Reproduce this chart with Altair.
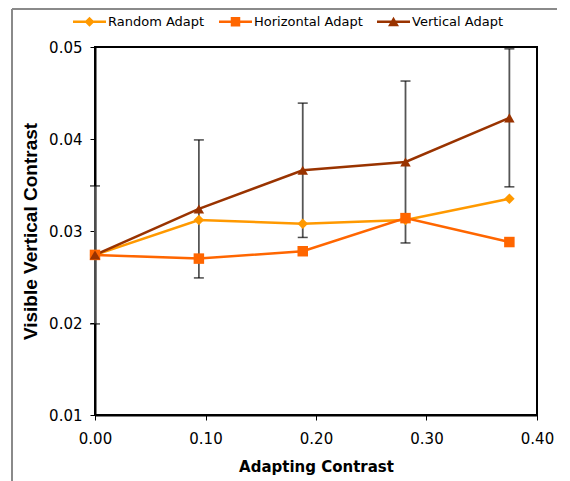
import altair as alt
import pandas as pd

# ---- data ----
series_names = ["Random Adapt", "Horizontal Adapt", "Vertical Adapt"]
series_colors = ["#FF9900", "#FF6600", "#993300"]
adapting_contrast = [0.0, 0.094, 0.188, 0.281, 0.375]
random_adapt = [0.0274, 0.0312, 0.0308, 0.0312, 0.0335]
horizontal_adapt = [0.0274, 0.0270, 0.0278, 0.0314, 0.0288]
vertical_adapt = [0.0274, 0.0324, 0.0366, 0.0375, 0.0423]
vertical_err = [0.0075, 0.0075, 0.0073, 0.0088, 0.0075]
x_ticks = [0.0, 0.1, 0.2, 0.3, 0.4]
y_ticks = [0.01, 0.02, 0.03, 0.04, 0.05]

rows = []
for name, vals in zip(series_names, [random_adapt, horizontal_adapt, vertical_adapt]):
    for xv, yv in zip(adapting_contrast, vals):
        rows.append({"contrast": xv, "value": yv, "series": name})
df = pd.DataFrame(rows)

err_df = pd.DataFrame({
    "contrast": adapting_contrast,
    "lo": [v - e for v, e in zip(vertical_adapt, vertical_err)],
    "hi": [v + e for v, e in zip(vertical_adapt, vertical_err)],
})

x_enc = alt.X("contrast:Q",
              scale=alt.Scale(domain=[0, 0.4], nice=False),
              axis=alt.Axis(values=x_ticks, format=".2f", title="Adapting Contrast",
                            labelPadding=11, titlePadding=13, labelFlush=False))
y_axis = alt.Axis(values=y_ticks, format=".2f", title="Visible Vertical Contrast",
                  labelPadding=8, titlePadding=8, titleFont="Liberation Sans",
                  titleFontSize=19, labelFlush=False)
y_scale = alt.Scale(domain=[0.01, 0.05], nice=False)

color_scale = alt.Scale(domain=series_names, range=series_colors)

# custom legend symbols: a line with the marker in its middle (path units: [-1,1] = symbol size)
legend_paths = [
    "M-3.3,-0.25H3.3V0.25H-3.3Z M0,-1L1,0L0,1L-1,0Z",
    "M-3.3,-0.25H3.3V0.25H-3.3Z M-0.95,-0.95H0.95V0.95H-0.95Z",
    "M-3.3,-0.25H3.3V0.25H-3.3Z M0,-1L1.1,0.9L-1.1,0.9Z",
]

legend = alt.Legend(orient="none", legendX=-12, legendY=-32, direction="horizontal",
                    title=None, labelFont="DejaVu Sans", labelFontSize=13,
                    labelColor="black", symbolSize=100, labelOffset=12,
                    columnPadding=14, padding=0, symbolOpacity=1,
                    symbolStrokeWidth=0)

err_rule = alt.Chart(err_df).mark_rule(color="#555555", strokeWidth=1.8).encode(
    x=x_enc,
    y=alt.Y("lo:Q", scale=y_scale, axis=y_axis),
    y2="hi:Q",
)
cap_lo = alt.Chart(err_df).mark_tick(orient="horizontal", size=10, thickness=1.5,
                                     color="black").encode(
    x=x_enc, y=alt.Y("lo:Q", scale=y_scale, axis=y_axis))
cap_hi = alt.Chart(err_df).mark_tick(orient="horizontal", size=10, thickness=1.5,
                                     color="black").encode(
    x=x_enc, y=alt.Y("hi:Q", scale=y_scale, axis=y_axis))

lines = alt.Chart(df).mark_line(strokeWidth=2.5).encode(
    x=x_enc,
    y=alt.Y("value:Q", scale=y_scale, axis=y_axis),
    color=alt.Color("series:N", scale=color_scale, legend=None),
)
points = alt.Chart(df).mark_point(filled=True, size=110, opacity=1).encode(
    x=x_enc,
    y=alt.Y("value:Q", scale=y_scale, axis=y_axis),
    color=alt.Color("series:N", scale=color_scale, legend=None),
    shape=alt.Shape("series:N",
                    scale=alt.Scale(domain=series_names,
                                    range=["diamond", "square", "triangle-up"]),
                    legend=None),
)
legend_layer = alt.Chart(df).mark_point(filled=True, size=100, opacity=0).encode(
    x=x_enc,
    y=alt.Y("value:Q", scale=y_scale, axis=y_axis),
    color=alt.Color("series:N", scale=color_scale, legend=legend),
    shape=alt.Shape("series:N", scale=alt.Scale(domain=series_names, range=legend_paths),
                    legend=legend),
)

frame_left = alt.Chart(df).mark_rule(color="#8a8a8a", strokeWidth=1.5).encode(
    x=alt.value(-83), y=alt.value(-38), y2=alt.value(500))
frame_top = alt.Chart(df).mark_rule(color="#8a8a8a", strokeWidth=1.5).encode(
    x=alt.value(-83), x2=alt.value(600), y=alt.value(-38))

chart = alt.layer(
    frame_left, frame_top, err_rule, cap_lo, cap_hi, lines, points, legend_layer
).resolve_scale(
    color="independent", shape="independent"
).properties(
    width=442, height=368,
    autosize=alt.AutoSizeParams(type="none"),
    padding={"left": 87, "top": 39, "right": 20, "bottom": 70},
).configure_view(
    stroke="black", strokeWidth=2
).configure_axis(
    grid=False, domainColor="black", domainWidth=2, tickColor="black", tickWidth=1,
    tickSize=5, labelFont="DejaVu Sans", labelFontSize=15, labelColor="black",
    titleFont="DejaVu Sans", titleFontSize=15, titleFontWeight="bold", titleColor="black",
)

chart.save("out.html", embed_options={"renderer": "svg", "actions": False})
